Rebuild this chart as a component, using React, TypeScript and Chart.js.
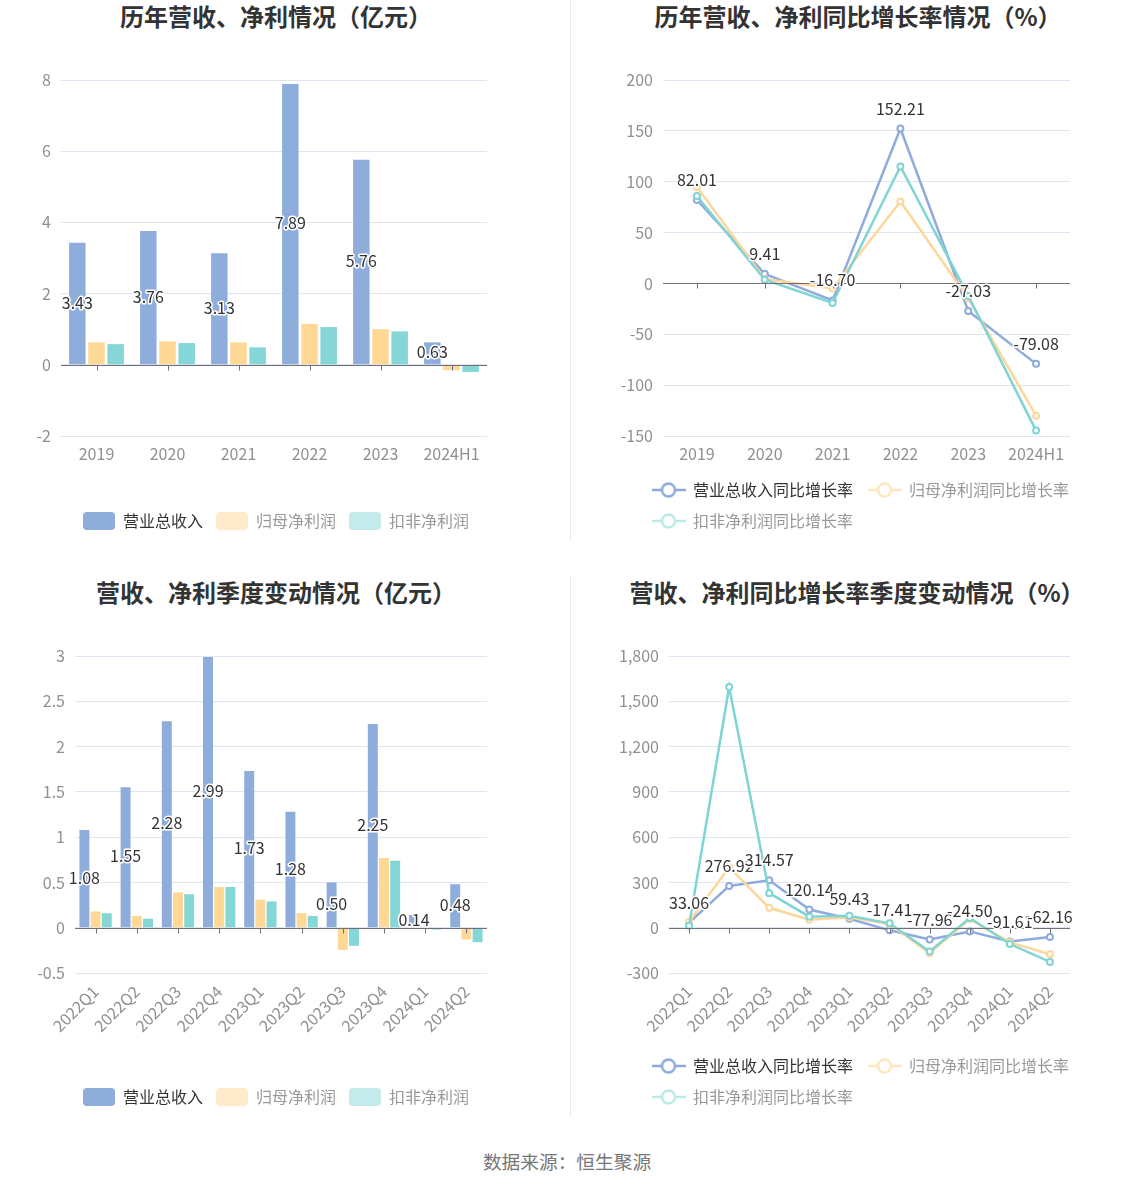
import React, { useEffect, useRef } from 'react';
import { Chart, registerables } from 'chart.js';

Chart.register(...registerables);

const FONT = '"Noto Sans CJK SC", "Noto Sans", sans-serif';

// ---------- data ----------
const annualCats = ['2019', '2020', '2021', '2022', '2023', '2024H1'];
const annualRevenue = [3.43, 3.76, 3.13, 7.89, 5.76, 0.63];
const annualNetProfit = [0.63, 0.66, 0.63, 1.15, 1.0, -0.15];
const annualDeducted = [0.58, 0.61, 0.49, 1.06, 0.94, -0.2];

const annualRevenueGrowth = [82.01, 9.41, -16.7, 152.21, -27.03, -79.08];
const annualNetProfitGrowth = [94.7, 4.3, -5.0, 80.5, -14.6, -130.0];
const annualDeductedGrowth = [86.0, 3.6, -19.2, 115.0, -12.3, -144.7];

const quarterCats = ['2022Q1', '2022Q2', '2022Q3', '2022Q4', '2023Q1', '2023Q2', '2023Q3', '2023Q4', '2024Q1', '2024Q2'];
const quarterRevenue = [1.08, 1.55, 2.28, 2.99, 1.73, 1.28, 0.5, 2.25, 0.14, 0.48];
const quarterNetProfit = [0.18, 0.13, 0.39, 0.45, 0.31, 0.16, -0.245, 0.77, -0.01, -0.13];
const quarterDeducted = [0.16, 0.1, 0.37, 0.45, 0.29, 0.13, -0.2, 0.74, -0.02, -0.16];

const quarterRevenueGrowth = [33.06, 276.92, 314.57, 120.14, 59.43, -17.41, -77.96, -24.5, -91.61, -62.16];
const quarterNetProfitGrowth = [40, 400, 132, 53, 70, 24, -168, 57, -97, -176];
const quarterDeductedGrowth = [13, 1595, 229, 73, 79, 29, -157, 64, -108, -227];

const barLegendNames = ['营业总收入', '归母净利润', '扣非净利润'];
const lineLegendNames = ['营业总收入同比增长率', '归母净利润同比增长率', '扣非净利润同比增长率'];

// ---------- styles ----------
const BAR_COLORS = ['#8EADDB', '#FFD896', '#85D6D6'];
const LINE_COLORS = ['#8FAADC', '#FFD699', '#7FD4D4'];
const LEGEND_BAR_COLORS = ['#8EADDB', '#FFEACB', '#C3EBEB'];
const LEGEND_LINE_COLORS = ['#8FAADC', '#FFE6C0', '#BEE9EA'];
const LEGEND_TEXT = ['#333333', '#999999', '#999999'];
const TICK_COLOR = '#909090';

type Geo = {
  cl: number; ct: number; cw: number; ch: number;
  L: number; T: number; R: number; B: number;
  yW: number; xH: number; legH: number;
  legX: number; legRowY: number;
};

const decorPlugin = {
  id: 'decor',
  afterLayout(chart: any, _a: any, opts: any) {
    const lg = chart.legend;
    if (lg && opts && opts.legendLeft != null) {
      const h = lg.height;
      lg.left = opts.legendLeft;
      lg.right = opts.legendLeft + 520;
      lg.top = opts.legendTop;
      lg.bottom = opts.legendTop + h;
    }
  },
  afterDatasetsDraw(chart: any, _a: any, opts: any) {
    const { ctx, chartArea } = chart;
    const ys = chart.scales.y;
    const xs = chart.scales.x;
    const y0 = Math.round(ys.getPixelForValue(0)) + 0.5;
    ctx.save();
    ctx.strokeStyle = '#6E7079';
    ctx.lineWidth = 1;
    ctx.beginPath();
    ctx.moveTo(chartArea.left, y0);
    ctx.lineTo(chartArea.right, y0);
    for (let i = 0; i < xs.ticks.length; i++) {
      const x = Math.round(xs.getPixelForTick(i)) + 0.5;
      ctx.moveTo(x, y0);
      ctx.lineTo(x, y0 + 5);
    }
    ctx.stroke();

    const meta = chart.getDatasetMeta(0);
    const ds = chart.data.datasets[0];
    ctx.font = `16px ${FONT}`;
    ctx.textAlign = 'center';
    ctx.textBaseline = 'middle';
    ctx.lineJoin = 'round';
    ctx.lineWidth = 3;
    ctx.strokeStyle = '#ffffff';
    ctx.fillStyle = '#333333';
    meta.data.forEach((el: any, i: number) => {
      const p = el.getProps(['x', 'y', 'base'], true);
      const v = ds.data[i] as number;
      const ty = opts.kind === 'bar' ? (p.y + p.base) / 2 - 1 : p.y - 20;
      const t = v.toFixed(2);
      ctx.strokeText(t, p.x, ty);
      ctx.fillText(t, p.x, ty);
    });
    ctx.restore();
  },
};

function makeLineIcon(color: string): HTMLCanvasElement {
  const c = document.createElement('canvas');
  c.width = 34;
  c.height = 18;
  const g = c.getContext('2d')!;
  g.strokeStyle = color;
  g.lineWidth = 2.5;
  g.beginPath();
  g.moveTo(0, 9);
  g.lineTo(34, 9);
  g.stroke();
  g.beginPath();
  g.arc(17, 9, 6.5, 0, Math.PI * 2);
  g.fillStyle = '#ffffff';
  g.fill();
  g.stroke();
  return c;
}

function tickFmt(v: any) {
  return Number(v).toLocaleString('en-US', { maximumFractionDigits: 2 });
}

function buildConfig(kind: 'bar' | 'line', cats: string[], series: number[][], names: string[], geo: Geo,
  yMin: number, yMax: number, yStep: number, rotated: boolean, barOpts?: { cp: number; bp: number }) {
  const padL = geo.L - geo.cl - geo.yW;
  const padT = geo.T - geo.ct;
  const padR = geo.cl + geo.cw - geo.R;
  const padB = geo.ct + geo.ch - geo.B - geo.xH - geo.legH;

  const datasets = series.map((data, i) => {
    if (kind === 'bar') {
      return {
        type: 'bar',
        label: names[i],
        data,
        backgroundColor: BAR_COLORS[i],
        borderWidth: 0,
        categoryPercentage: barOpts!.cp,
        barPercentage: barOpts!.bp,
      };
    }
    return {
      type: 'line',
      label: names[i],
      data,
      borderColor: LINE_COLORS[i],
      backgroundColor: LINE_COLORS[i],
      borderWidth: 2.5,
      pointRadius: 3,
      pointBorderWidth: 2,
      pointBackgroundColor: '#ffffff',
      pointBorderColor: LINE_COLORS[i],
      tension: 0,
      order: 3 - i,
    };
  });

  const icons = kind === 'line' ? LEGEND_LINE_COLORS.map(makeLineIcon) : [];
  const padding = kind === 'bar' ? 13 : 15;
  const itemHeight = kind === 'bar' ? 18 : 16;

  return {
    type: kind,
    data: { labels: cats, datasets },
    plugins: [decorPlugin],
    options: {
      animation: false,
      responsive: false,
      maintainAspectRatio: false,
      devicePixelRatio: 1,
      events: [],
      layout: { padding: { left: padL, top: padT, right: padR, bottom: padB } },
      scales: {
        x: {
          type: 'category',
          offset: true,
          grid: { display: false, drawTicks: false },
          border: { display: false },
          ticks: {
            color: TICK_COLOR,
            font: { size: 16, family: FONT },
            padding: rotated ? 9 : 8,
            autoSkip: false,
            minRotation: rotated ? 45 : 0,
            maxRotation: rotated ? 45 : 0,
          },
          afterFit(scale: any) { scale.height = geo.xH; },
        },
        y: {
          min: yMin,
          max: yMax,
          grid: { color: '#E0E6F1', drawTicks: false },
          border: { display: false },
          ticks: {
            stepSize: yStep,
            color: TICK_COLOR,
            font: { size: 16, family: FONT },
            padding: 10,
            callback: tickFmt,
          },
          afterFit(scale: any) { scale.width = geo.yW; },
        },
      },
      plugins: {
        tooltip: { enabled: false },
        title: { display: false },
        decor: {
          kind,
          legendLeft: geo.legX - geo.cl - padding,
          legendTop: geo.legRowY - geo.ct - padding - itemHeight / 2,
        },
        legend: {
          display: true,
          position: 'bottom',
          align: 'start',
          labels: {
            font: { size: 16, family: FONT },
            padding,
            boxWidth: kind === 'bar' ? 32 : 16,
            boxHeight: kind === 'bar' ? 18 : 16,
            usePointStyle: kind === 'line',
            pointStyleWidth: kind === 'line' ? 33 : undefined,
            generateLabels: () => names.map((n, i) => (kind === 'bar'
              ? {
                  text: n,
                  fillStyle: LEGEND_BAR_COLORS[i],
                  strokeStyle: LEGEND_BAR_COLORS[i],
                  lineWidth: 0,
                  fontColor: LEGEND_TEXT[i],
                  borderRadius: 4,
                  hidden: false,
                  datasetIndex: i,
                }
              : {
                  text: n,
                  fillStyle: '#fff',
                  strokeStyle: LEGEND_LINE_COLORS[i],
                  lineWidth: 0,
                  fontColor: LEGEND_TEXT[i],
                  pointStyle: icons[i],
                  hidden: false,
                  datasetIndex: i,
                })),
          },
        },
      },
    },
  };
}

const GEO_TL: Geo = { cl: 0, ct: 40, cw: 567, ch: 505, L: 61, T: 80, R: 487, B: 436, yW: 50, xH: 30, legH: 41, legX: 83, legRowY: 521 };
const GEO_TR: Geo = { cl: 572, ct: 40, cw: 562, ch: 505, L: 663, T: 80, R: 1070, B: 436, yW: 60, xH: 30, legH: 72, legX: 652, legRowY: 490 };
const GEO_BL: Geo = { cl: 0, ct: 615, cw: 567, ch: 505, L: 75, T: 656, R: 487, B: 973, yW: 50, xH: 60, legH: 41, legX: 83, legRowY: 1097 };
const GEO_BR: Geo = { cl: 572, ct: 615, cw: 562, ch: 505, L: 669, T: 656, R: 1070, B: 973, yW: 60, xH: 60, legH: 72, legX: 652, legRowY: 1066 };

const titleStyle = (cx: number, cy: number): React.CSSProperties => ({
  position: 'absolute',
  left: cx - 300,
  width: 600,
  top: cy - 17,
  height: 34,
  lineHeight: '34px',
  textAlign: 'center',
  fontFamily: FONT,
  fontWeight: 'bold',
  fontSize: 24,
  color: '#333',
  whiteSpace: 'nowrap',
});

const canvasStyle = (g: Geo): React.CSSProperties => ({
  position: 'absolute', left: g.cl, top: g.ct, width: g.cw, height: g.ch,
});

export default function App() {
  const r1 = useRef<HTMLCanvasElement>(null);
  const r2 = useRef<HTMLCanvasElement>(null);
  const r3 = useRef<HTMLCanvasElement>(null);
  const r4 = useRef<HTMLCanvasElement>(null);

  useEffect(() => {
    document.body.style.margin = '0';
    Chart.defaults.font.family = FONT;
    const charts: Chart[] = [];
    charts.push(new Chart(r1.current!, buildConfig('bar', annualCats,
      [annualRevenue, annualNetProfit, annualDeducted], barLegendNames, GEO_TL, -2, 8, 2, false, { cp: 0.81, bp: 0.86 }) as any));
    charts.push(new Chart(r2.current!, buildConfig('line', annualCats,
      [annualRevenueGrowth, annualNetProfitGrowth, annualDeductedGrowth], lineLegendNames, GEO_TR, -150, 200, 50, false) as any));
    charts.push(new Chart(r3.current!, buildConfig('bar', quarterCats,
      [quarterRevenue, quarterNetProfit, quarterDeducted], barLegendNames, GEO_BL, -0.5, 3, 0.5, true, { cp: 0.815, bp: 0.89 }) as any));
    charts.push(new Chart(r4.current!, buildConfig('line', quarterCats,
      [quarterRevenueGrowth, quarterNetProfitGrowth, quarterDeductedGrowth], lineLegendNames, GEO_BR, -300, 1800, 300, true) as any));
    return () => { charts.forEach((c) => c.destroy()); };
  }, []);

  return (
    <div style={{ position: 'relative', width: 1134, height: 1188, background: '#fff', overflow: 'hidden' }}>
      <div style={titleStyle(276, 16)}>历年营收、净利情况（亿元）</div>
      <div style={titleStyle(858, 16)}>历年营收、净利同比增长率情况（%）</div>
      <div style={titleStyle(276, 592)}>营收、净利季度变动情况（亿元）</div>
      <div style={titleStyle(857, 592)}>营收、净利同比增长率季度变动情况（%）</div>
      <div style={{ position: 'absolute', left: 570, top: 0, width: 1, height: 541, background: '#ECECEC' }} />
      <div style={{ position: 'absolute', left: 570, top: 575, width: 1, height: 542, background: '#ECECEC' }} />
      <canvas ref={r1} width={GEO_TL.cw} height={GEO_TL.ch} style={canvasStyle(GEO_TL)} />
      <canvas ref={r2} width={GEO_TR.cw} height={GEO_TR.ch} style={canvasStyle(GEO_TR)} />
      <canvas ref={r3} width={GEO_BL.cw} height={GEO_BL.ch} style={canvasStyle(GEO_BL)} />
      <canvas ref={r4} width={GEO_BR.cw} height={GEO_BR.ch} style={canvasStyle(GEO_BR)} />
      <div style={{
        position: 'absolute', left: 0, width: 1134, top: 1146, height: 30, lineHeight: '30px', textAlign: 'center',
        fontFamily: FONT, fontSize: 18.7, color: '#777',
      }}>数据来源：恒生聚源</div>
    </div>
  );
}
